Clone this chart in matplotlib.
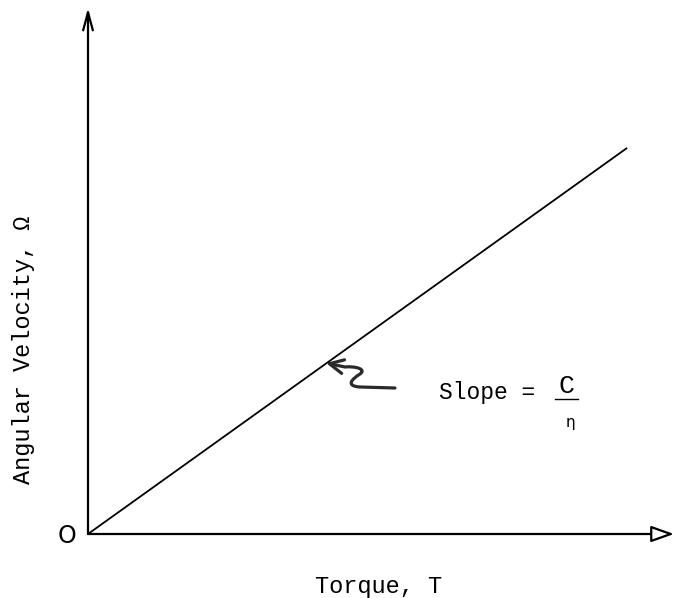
import matplotlib
matplotlib.use("Agg")
import matplotlib.pyplot as plt
from matplotlib.patches import FancyArrowPatch
from matplotlib.path import Path

# Linear relation: angular velocity grows with torque, slope C/eta
torque = [0.0, 9.2]
omega = [0.0, 7.34]

x_label = "Torque, T"
y_label = "Angular Velocity, \u03a9"
origin_label = "O"

W, H = 675, 598
fig = plt.figure(figsize=(W / 100, H / 100), dpi=100)
fig.patch.set_facecolor("white")

# Axes: origin at pixel (88, 534), extending to the right edge and top
x0, y0, x1, y1 = 88, 534, 674, 8
ax = fig.add_axes([x0 / W, (H - y0) / H, (x1 - x0) / W, (y0 - y1) / H])
ax.set_xlim(0, 10)
ax.set_ylim(0, 10)
ax.axis("off")

def px(xp, yp):
    """pixel position -> data coordinates of the main axes"""
    return ((xp - x0) / (x1 - x0) * 10, (y0 - yp) / (y0 - y1) * 10)

mono = "Liberation Mono"

# coordinate axes with arrowheads
ax.annotate("", xy=(10, 0), xytext=(0, 0), annotation_clip=False,
            arrowprops=dict(arrowstyle="-|>,head_length=1.4,head_width=0.5",
                            lw=1.6, color="black", fc="white",
                            shrinkA=0, shrinkB=0))
ax.annotate("", xy=(0, 10), xytext=(0, 0), annotation_clip=False,
            arrowprops=dict(arrowstyle="->,head_length=1.3,head_width=0.35",
                            lw=1.6, color="black", shrinkA=0, shrinkB=0))

# characteristic line
ax.plot(torque, omega, color="black", lw=1.3, solid_capstyle="butt")

# wavy pointer to the line
verts = [px(395, 388), px(360, 387),
         px(345, 386), px(352, 379), px(360, 374),
         px(367, 369), px(355, 366), px(345, 367),
         px(326, 363)]
codes = [Path.MOVETO, Path.LINETO,
         Path.CURVE4, Path.CURVE4, Path.CURVE4,
         Path.CURVE4, Path.CURVE4, Path.CURVE4,
         Path.LINETO]
pointer = FancyArrowPatch(path=Path(verts, codes),
                          arrowstyle="->,head_length=5,head_width=2.5",
                          lw=2.3, color="#2a2a2a", mutation_scale=2)
ax.add_patch(pointer)

# slope annotation
sx, sy = px(439, 393)
ax.text(sx, sy, "Slope =", family=mono, fontsize=16.5, ha="left", va="center")
cx, cy = px(566, 386)
ax.text(cx, cy, "C", family=mono, fontsize=19, ha="center", va="center")
bx0, by = px(555, 399)
bx1, _ = px(578, 399)
ax.plot([bx0, bx1], [by, by], color="black", lw=1.0)
ex, ey = px(570, 422)
ax.text(ex, ey, "\u03b7", family="DejaVu Sans", fontsize=11, ha="center", va="center")

# labels
fig.text(379 / W, 1 - 587 / H, x_label, family=mono, fontsize=17,
         ha="center", va="center")
fig.text(24 / W, 1 - 350 / H, y_label, family=mono, fontsize=17,
         ha="center", va="center", rotation=90)
fig.text(67 / W, 1 - 536 / H, origin_label, family="DejaVu Sans", fontsize=17,
         ha="center", va="center")

fig.savefig("out.png", dpi=100, facecolor="white")
